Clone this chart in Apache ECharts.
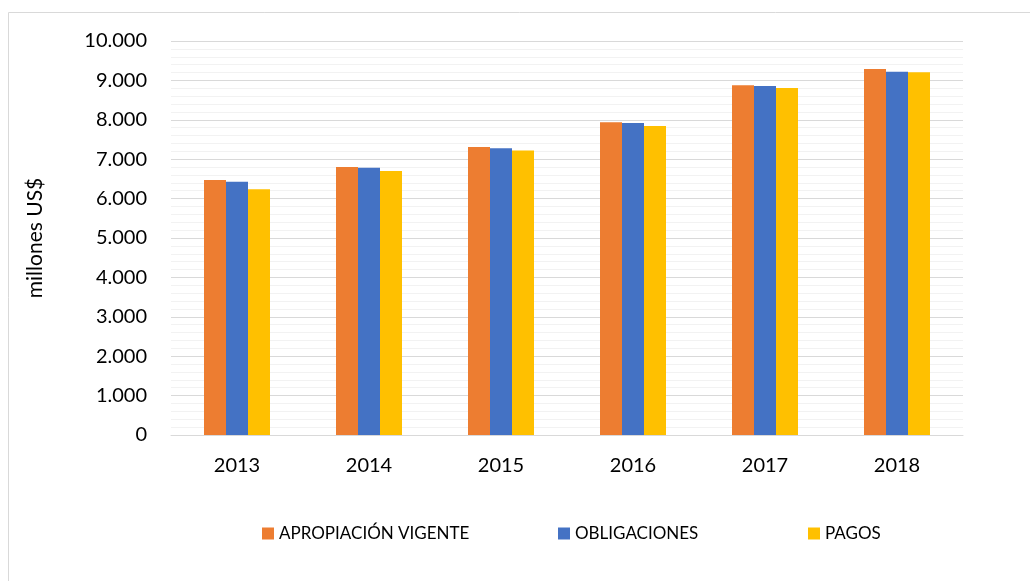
<!DOCTYPE html>
<html>
<head>
<meta charset="utf-8">
<script src="https://cdn.jsdelivr.net/npm/echarts@6/dist/echarts.min.js"></script>
<style>
    html, body { margin: 0; padding: 0; background: #fff; }
    #chart { width: 1030px; height: 581px; }
</style>
</head>
<body>
<div id="chart"></div>
<script>
// 数据
var years = ['2013', '2014', '2015', '2016', '2017', '2018'];
var apropiacion = [6470, 6800, 7310, 7940, 8880, 9290];
var obligaciones = [6430, 6780, 7280, 7920, 8860, 9220];
var pagos = [6240, 6700, 7220, 7840, 8810, 9210];
var seriesNames = ['APROPIACIÓN VIGENTE', 'OBLIGACIONES', 'PAGOS'];
var colors = ['#ed7d31', '#4472c4', '#ffc000'];

var font = 'Lato, "Open Sans", sans-serif';

function fmt(v) {
    return String(v).replace(/\B(?=(\d{3})+(?!\d))/g, '.');
}

// 图例分开放, 间距不一样
function makeLegend(i, left) {
    return {
        data: [seriesNames[i]],
        left: left,
        top: 520,
        icon: 'rect',
        itemWidth: 12,
        itemHeight: 12,
        itemGap: 0,
        textStyle: { fontFamily: font, fontSize: 17, color: '#000', padding: [0, 0, 0, 0] }
    };
}

var chart = echarts.init(document.getElementById('chart'));
var option = {
    animation: false,
    color: colors,
    graphic: [{
        type: 'rect',
        shape: { x: 8.5, y: 12.5, width: 1200, height: 800 },
        style: { fill: 'none', stroke: '#d9d9d9', lineWidth: 1 },
        silent: true
    }],
    legend: [makeLegend(0, 257), makeLegend(1, 553), makeLegend(2, 803)],
    grid: {
        left: 171,
        right: 67,
        top: 41,
        bottom: 146
    },
    xAxis: {
        type: 'category',
        data: years,
        axisTick: { show: false },
        axisLine: { lineStyle: { color: '#d9d9d9', width: 1 } },
        axisLabel: { fontFamily: font, fontSize: 20, color: '#000', margin: 21 }
    },
    yAxis: {
        type: 'value',
        min: 0,
        max: 10000,
        interval: 1000,
        name: 'millones US$',
        nameLocation: 'middle',
        nameGap: 125,
        nameTextStyle: { fontFamily: font, fontSize: 21, color: '#000' },
        axisLine: { show: false },
        axisTick: { show: false },
        axisLabel: {
            fontFamily: font, fontSize: 20, color: '#000', margin: 24,
            formatter: fmt
        },
        splitLine: { lineStyle: { color: '#d9d9d9', width: 1 } },
        minorTick: { show: false, splitNumber: 5 },
        minorSplitLine: { show: true, lineStyle: { color: '#f2f2f2', width: 1 } }
    },
    series: [{
        name: seriesNames[0],
        type: 'bar',
        data: apropiacion,
        barGap: '0%',
        barCategoryGap: '50%'
    }, {
        name: seriesNames[1],
        type: 'bar',
        data: obligaciones,
        barGap: '0%',
        barCategoryGap: '50%'
    }, {
        name: seriesNames[2],
        type: 'bar',
        data: pagos,
        barGap: '0%',
        barCategoryGap: '50%'
    }]
};
chart.setOption(option);
</script>
</body>
</html>
